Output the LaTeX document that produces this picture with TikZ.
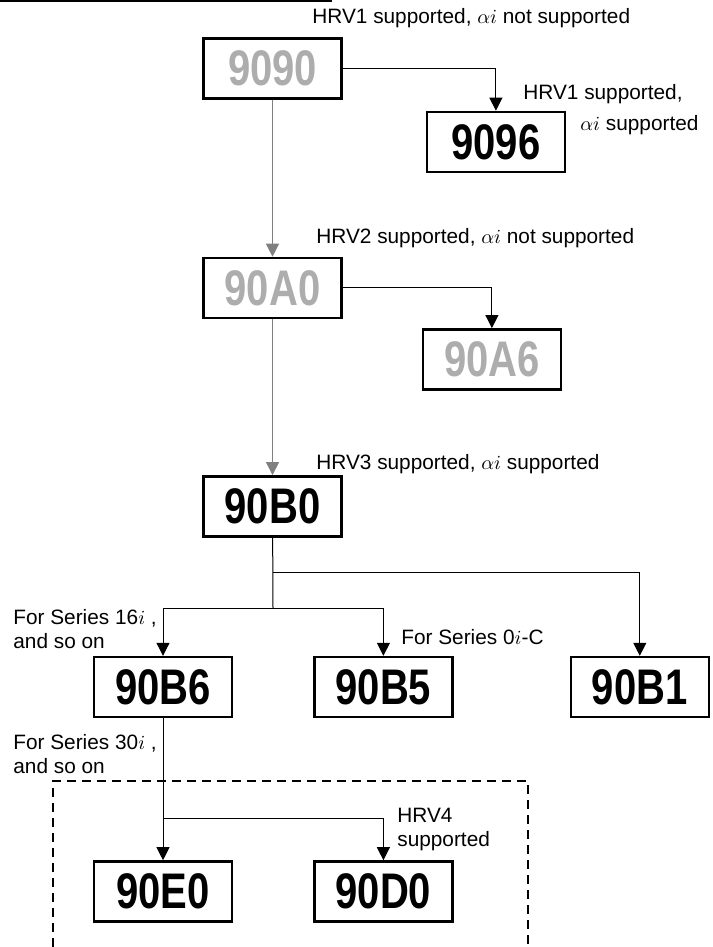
\documentclass[tikz,border=0pt]{standalone}
\usepackage{fontspec}
\setmainfont{Liberation Sans}
\newfontfamily\boxfont[FakeStretch=0.8]{Liberation Sans}
\usetikzlibrary{arrows.meta,positioning}

\begin{document}
\begin{tikzpicture}[x=0.5pt, y=-0.5pt, >={Triangle[length=6.5pt,width=6.5pt]}]
  \tikzstyle{box}=[rectangle, draw=black, line width=1.2pt, minimum width=69pt, minimum height=30pt, inner sep=0pt, font=\boxfont\bfseries\fontsize{25}{25}\selectfont]
  \tikzstyle{ghost}=[box, text=black!32]
  \tikzstyle{note}=[anchor=west, inner sep=0pt, align=left, font=\fontsize{10.4}{12}\selectfont]
  \tikzstyle{link}=[line width=0.5pt]
  \tikzstyle{faint}=[link, draw=black!50]
  \useasboundingbox (0,0) rectangle (712,947);
  \draw[line width=0.9pt] (0,1) -- (332,1);
  \node[ghost] (n9090) at (272.5,68.5) {9090};
  \node[box, below right=5.5pt and 41.5pt of n9090] (n9096) {9096};
  \node[ghost, below=78.5pt of n9090] (n90A0) {90A0};
  \node[ghost, below right=4.5pt and 39.5pt of n90A0] (n90A6) {90A6};
  \node[box, below=78pt of n90A0] (n90B0) {90B0};
  \node[box] (n90B6) at (163,687) {90B6};
  \node[box, right=40pt of n90B6] (n90B5) {90B5};
  \node[box, right=58pt of n90B5] (n90B1) {90B1};
  \node[box, below=71pt of n90B6] (n90E0) {90E0};
  \node[box, right=40pt of n90E0] (n90D0) {90D0};
  \node[note] (hrv1) at (312,18) {HRV1 supported, $\alpha i$ not supported};
  \node[note] (hrv1a) at (523,94) {HRV1 supported,};
  \node[note] (hrv1b) at (580,125) {$\alpha i$ supported};
  \node[note] (hrv2) at (316,238) {HRV2 supported, $\alpha i$ not supported};
  \node[note] (hrv3) at (316,464) {HRV3 supported, $\alpha i$ supported};
  \node[note] (s16) at (13,629) {For Series 16$i$ ,\\and so on};
  \node[note] (s0) at (401,637) {For Series 0$i$-C};
  \node[note] (s30) at (13,754) {For Series 30$i$ ,\\and so on};
  \node[note] (hrv4) at (397,829) {HRV4\\supported};
  \coordinate (j1) at (273,572);
  \coordinate (j2) at (273,608);
  \coordinate (j3) at (163,818);
  \draw[link, ->] (n9090.east) -| (n9096.north);
  \draw[faint, ->] (n9090) -- (n90A0);
  \draw[link, ->] (n90A0.east) -| (n90A6.north);
  \draw[faint, ->] (n90A0) -- (n90B0);
  \draw[link] (n90B0) -- (j2);
  \draw[link, ->] (j1) -| (n90B1.north);
  \draw[link, ->] (j2) -| (n90B6.north);
  \draw[link, ->] (j2) -| (n90B5.north);
  \draw[link, ->] (n90B6) -- (n90E0);
  \draw[link, ->] (j3) -| (n90D0.north);
  \draw[line width=0.8pt, dash pattern=on 4.5pt off 3pt] (53,947) |- (528,781) -- (528,947);
\end{tikzpicture}
\end{document}
